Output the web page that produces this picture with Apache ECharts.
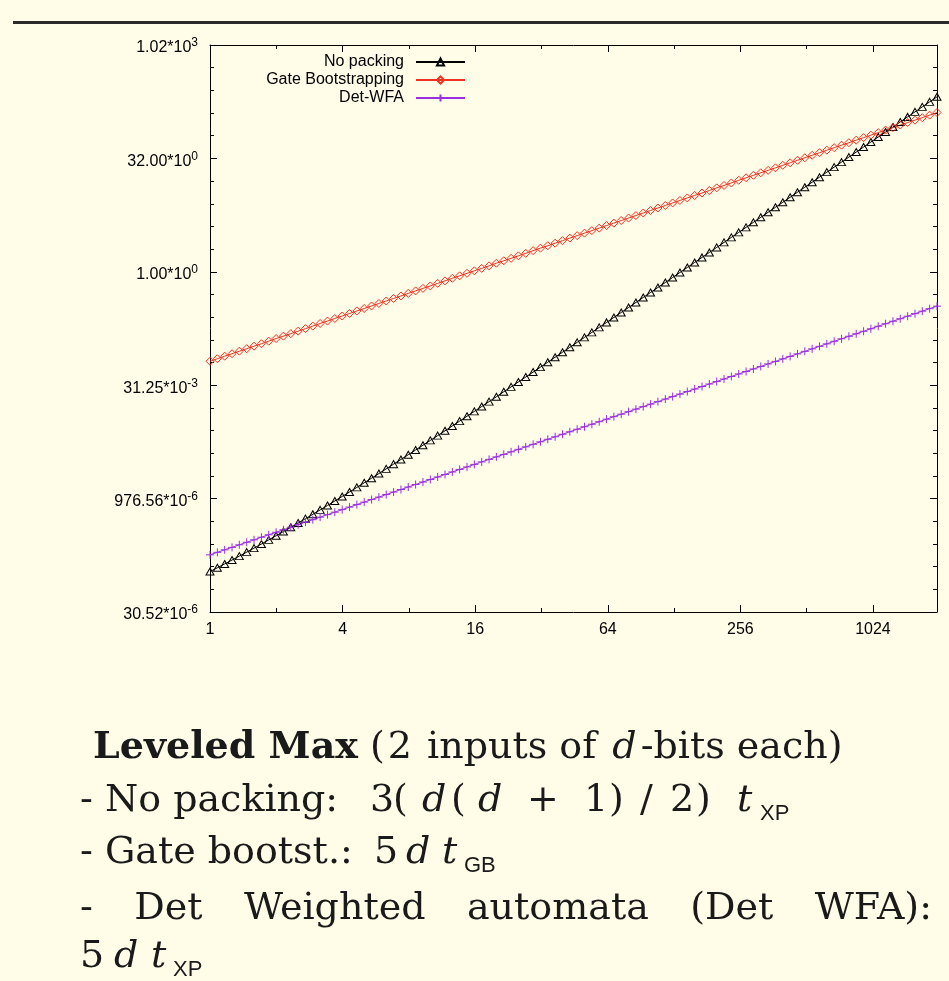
<!DOCTYPE html>
<html><head><meta charset="utf-8">
<script src="https://cdn.jsdelivr.net/npm/echarts@6/dist/echarts.min.js"></script>
<style>html,body{margin:0;padding:0;background:#fffce8;} #c{width:949px;height:981px;}</style>
</head><body><div id="c"></div>
<script>
// d (bits) sampled evenly on the log axis from 1 to 2000
const dValues = [1,1.080,1.166,1.259,1.359,1.468,1.585,1.712,1.848,1.996,
2.155,2.327,2.513,2.713,2.930,3.163,3.416,3.688,3.983,4.301,
4.644,5.014,5.415,5.847,6.313,6.817,7.361,7.948,8.583,9.268,
10.01,10.81,11.67,12.60,13.60,14.69,15.86,17.13,18.50,19.97,
21.57,23.29,25.14,27.15,29.32,31.66,34.18,36.91,39.86,43.04,
46.47,50.18,54.18,58.51,63.18,68.22,73.66,79.54,85.89,92.74,
100.1,108.1,116.8,126.1,136.1,147.0,158.7,171.4,185.1,199.9,
215.8,233.0,251.6,271.7,293.4,316.8,342.1,369.4,398.9,430.7,
465.1,502.2,542.2,585.5,632.2,682.7,737.2,796.0,859.5,928.1,
1002,1082,1168,1262,1362,1471,1589,1715,1852,2000];

const noPacking = [1.050e-4,1.179e-4,1.326e-4,1.493e-4,1.684e-4,1.902e-4,2.151e-4,2.437e-4,2.764e-4,3.139e-4,
3.569e-4,4.064e-4,4.634e-4,5.289e-4,6.044e-4,6.915e-4,7.919e-4,9.079e-4,1.042e-3,1.197e-3,
1.376e-3,1.583e-3,1.823e-3,2.102e-3,2.424e-3,2.798e-3,3.231e-3,3.734e-3,4.318e-3,4.996e-3,
5.783e-3,6.698e-3,7.760e-3,8.995e-3,1.043e-2,1.210e-2,1.404e-2,1.630e-2,1.893e-2,2.199e-2,
2.555e-2,2.969e-2,3.451e-2,4.013e-2,4.666e-2,5.428e-2,6.314e-2,7.347e-2,8.549e-2,9.950e-2,
0.1158,0.1348,0.1570,0.1828,0.2129,0.2479,0.2888,0.3363,0.3918,0.4564,
0.5318,0.6196,0.7219,0.8412,0.9802,1.142,1.331,1.552,1.808,2.107,
2.456,2.863,3.337,3.890,4.534,5.286,6.161,7.183,8.373,9.761,
11.38,13.27,15.46,18.03,21.02,24.50,28.57,33.31,38.83,45.27,
52.78,61.54,71.74,83.65,97.52,113.7,132.6,154.6,180.2,210.1];

const gateBootstrapping = [0.0650,0.0702,0.0758,0.0818,0.0884,0.0954,0.103,0.111,0.120,0.130,
0.140,0.151,0.163,0.176,0.190,0.206,0.222,0.240,0.259,0.280,
0.302,0.326,0.352,0.380,0.410,0.443,0.478,0.517,0.558,0.602,
0.650,0.702,0.758,0.819,0.884,0.955,1.03,1.11,1.20,1.30,
1.40,1.51,1.63,1.76,1.91,2.06,2.22,2.40,2.59,2.80,
3.02,3.26,3.52,3.80,4.11,4.43,4.79,5.17,5.58,6.03,
6.51,7.03,7.59,8.20,8.85,9.56,10.3,11.1,12.0,13.0,
14.0,15.1,16.4,17.7,19.1,20.6,22.2,24.0,25.9,28.0,
30.2,32.6,35.2,38.1,41.1,44.4,47.9,51.7,55.9,60.3,
65.1,70.3,76.0,82.0,88.6,95.6,103,111,120,130];

const detWFA = [1.75e-4,1.89e-4,2.04e-4,2.20e-4,2.38e-4,2.57e-4,2.77e-4,3.00e-4,3.23e-4,3.49e-4,
3.77e-4,4.07e-4,4.40e-4,4.75e-4,5.13e-4,5.54e-4,5.98e-4,6.45e-4,6.97e-4,7.53e-4,
8.13e-4,8.77e-4,9.48e-4,1.023e-3,1.105e-3,1.193e-3,1.288e-3,1.391e-3,1.502e-3,1.622e-3,
1.751e-3,1.891e-3,2.042e-3,2.205e-3,2.380e-3,2.571e-3,2.776e-3,2.998e-3,3.237e-3,3.495e-3,
3.774e-3,4.075e-3,4.400e-3,4.751e-3,5.131e-3,5.540e-3,5.982e-3,6.459e-3,6.975e-3,7.532e-3,
8.132e-3,8.782e-3,9.482e-3,1.024e-2,1.106e-2,1.194e-2,1.289e-2,1.392e-2,1.503e-2,1.623e-2,
1.752e-2,1.892e-2,2.043e-2,2.206e-2,2.382e-2,2.573e-2,2.778e-2,3.000e-2,3.239e-2,3.497e-2,
3.777e-2,4.078e-2,4.403e-2,4.755e-2,5.134e-2,5.544e-2,5.987e-2,6.464e-2,6.980e-2,7.537e-2,
8.139e-2,8.788e-2,9.489e-2,0.1025,0.1106,0.1195,0.1290,0.1393,0.1504,0.1624,
0.1754,0.1894,0.2045,0.2208,0.2384,0.2575,0.2780,0.3002,0.3241,0.3500];

const seriesNames = ['No packing', 'Gate Bootstrapping', 'Det-WFA'];
const xTickLabels = ['1', '4', '16', '64', '256', '1024'];
const yTickMantissas = ['30.52', '976.56', '31.25', '1.00', '32.00', '1.02'];
const yTickExponents = ['-6', '-6', '-3', '0', '0', '3'];

const SANS = "'Liberation Sans', Arial, Helvetica, sans-serif";
const BG = '#fffce8';
const RED = '#f03020';
const PURPLE = '#9a2fe0';
const INK = '#1a1a1a';

const chart = echarts.init(document.getElementById('c'), null, {renderer: 'canvas'});

function pairs(ys) { return dValues.map((d, i) => [d, ys[i]]); }

const X_MAX = 2000, Y_MIN = Math.pow(2, -15), Y_MAX = 1024;
const tickStyle = {color: '#000', width: 1};

function xMajor(pos, labels) {
  return {
    type: 'log', logBase: 4, min: 1, max: X_MAX, position: pos,
    axisLine: {show: true, onZero: false, lineStyle: {color: '#000', width: 1}},
    axisTick: {show: true, inside: true, length: 7, lineStyle: tickStyle},
    axisLabel: labels ? {
      show: true, margin: 10, color: '#000', fontFamily: SANS, fontSize: 16,
      showMaxLabel: false,
      formatter: function (v) {
        const k = Math.round(Math.log(v) / Math.log(4));
        return Math.abs(Math.pow(4, k) - v) < 1e-6 * v ? (xTickLabels[k] || '') : '';
      }
    } : {show: false},
    splitLine: {show: false}
  };
}
function xMinor(pos) {
  return {
    type: 'value', min: 0, max: Math.log2(X_MAX), interval: 1, position: pos,
    axisLine: {show: false, onZero: false},
    axisTick: {show: true, inside: true, length: 4, lineStyle: tickStyle},
    axisLabel: {show: false}, splitLine: {show: false}
  };
}
function yMajor(pos, labels) {
  return {
    type: 'log', logBase: 32, min: Y_MIN, max: Y_MAX, position: pos,
    axisLine: {show: true, onZero: false, lineStyle: {color: '#000', width: 1}},
    axisTick: {show: true, inside: true, length: 7, lineStyle: tickStyle},
    axisLabel: labels ? {
      show: true, margin: 12, color: '#000',
      formatter: function (v) {
        const k = Math.round(Math.log(v) / Math.log(32)) + 3;
        if (yTickMantissas[k] === undefined) return '';
        return '{m|' + yTickMantissas[k] + '*10}{e|' + yTickExponents[k] + '}';
      },
      rich: {
        m: {fontFamily: SANS, fontSize: 16, lineHeight: 22, verticalAlign: 'bottom', color: '#000', padding: [3, 0, 0, 0]},
        e: {fontFamily: SANS, fontSize: 12, lineHeight: 14, verticalAlign: 'top', color: '#000', padding: [3, 0, 0, 0]}
      }
    } : {show: false},
    splitLine: {show: false}
  };
}
function yMinor(pos) {
  return {
    type: 'value', min: -15, max: 10, interval: 1, position: pos,
    axisLine: {show: false, onZero: false},
    axisTick: {show: true, inside: true, length: 4, lineStyle: tickStyle},
    axisLabel: {show: false}, splitLine: {show: false}
  };
}

const legendRowsTop = [53, 71, 89];
const legends = seriesNames.map((n, i) => ({
  data: [n], right: 949 - 466, top: legendRowsTop[i], align: 'right', orient: 'horizontal',
  itemWidth: 49, itemHeight: 9, padding: 0, selectedMode: false,
  textStyle: {fontFamily: SANS, fontSize: 16, color: '#000', lineHeight: 18, padding: [0, 7, 0, 0]}
}));

// ---- caption text layout (measured with canvas) ----
const F_BOLD = 'bold 38px "DejaVu Serif"';
const F_REG = '38px "DejaVu Serif"';
const F_IT = 'italic 38px "DejaVu Serif"';
const F_MATH = '38px "DejaVu Serif"';
const F_SUB = '22px "Liberation Sans"';
const mctx = document.createElement('canvas').getContext('2d');
function tw(t, f) { mctx.font = f; return mctx.measureText(t).width; }
function T(x, yc, t, f) {
  return {type: 'text', x: x, y: yc, silent: true,
    style: {text: t, font: f, fill: INK, align: 'left', verticalAlign: 'middle', textAlign: 'left', textVerticalAlign: 'middle'}};
}
const caption = [];
// line 1
(function () {
  const y = 748; let x = 93;
  caption.push(T(x, y, 'Leveled Max', F_BOLD)); x += tw('Leveled Max', F_BOLD) + tw(' ', F_REG);
  caption.push(T(x, y, '(', F_REG)); x += tw('(', F_REG) + 3;
  caption.push(T(x, y, '2', F_MATH)); x += tw('2', F_MATH) + 3;
  caption.push(T(x, y, ' inputs of ', F_REG)); x += tw(' inputs of ', F_REG) + 4;
  caption.push(T(x, y, 'd', F_IT)); x += tw('d', F_IT) + 4;
  caption.push(T(x, y, '-bits each)', F_REG));
})();
// line 2
(function () {
  const y = 801;
  caption.push(T(80, y, '- No packing:', F_REG));
  const math = [['3', 370, F_MATH], ['(', 393, F_MATH], ['d', 422, F_IT], ['(', 451, F_MATH], ['d', 478, F_IT],
                ['+', 527, F_MATH], ['1', 584, F_MATH], [')', 609, F_MATH], ['/', 640, F_MATH], ['2', 670, F_MATH],
                [')', 696, F_MATH], ['t', 737, F_IT]];
  math.forEach(m => caption.push(T(m[1], y, m[0], m[2])));
  caption.push(T(760, y + 13, 'XP', F_SUB));
})();
// line 3
(function () {
  const y = 853;
  caption.push(T(80, y, '- Gate bootst.:', F_REG));
  caption.push(T(374, y, '5', F_MATH));
  caption.push(T(406, y, 'd', F_IT));
  caption.push(T(442, y, 't', F_IT));
  caption.push(T(464, y + 13, 'GB', F_SUB));
})();
// line 4 (justified)
(function () {
  const y = 909;
  const words = ['-', 'Det', 'Weighted', 'automata', '(Det', 'WFA):'];
  const widths = words.map(wd => tw(wd, F_REG));
  const total = widths.reduce((a, b) => a + b, 0);
  const gap = (932 - 80 - total) / (words.length - 1);
  let x = 80;
  words.forEach((wd, i) => { caption.push(T(x, y, wd, F_REG)); x += widths[i] + gap; });
})();
// line 5
(function () {
  const y = 957;
  caption.push(T(80, y, '5', F_MATH));
  caption.push(T(114, y, 'd', F_IT));
  caption.push(T(151, y, 't', F_IT));
  caption.push(T(173, y + 13, 'XP', F_SUB));
})();

const option = {
  backgroundColor: BG,
  animation: false,
  grid: {left: 210, top: 45, right: 12, bottom: 369, containLabel: false},
  legend: legends,
  xAxis: [xMajor('bottom', true), xMajor('top', false), xMinor('bottom'), xMinor('top')],
  yAxis: [yMajor('left', true), yMajor('right', false), yMinor('left'), yMinor('right')],
  series: [
    {name: seriesNames[0], type: 'line', data: pairs(noPacking), xAxisIndex: 0, yAxisIndex: 0,
      symbol: 'triangle', symbolSize: [8, 7], showAllSymbol: true,
      lineStyle: {color: '#000', width: 1},
      itemStyle: {color: 'rgba(0,0,0,0)', borderColor: '#000', borderWidth: 1}},
    {name: seriesNames[1], type: 'line', data: pairs(gateBootstrapping), xAxisIndex: 0, yAxisIndex: 0,
      symbol: 'diamond', symbolSize: 8, showAllSymbol: true,
      lineStyle: {color: RED, width: 1},
      itemStyle: {color: 'rgba(0,0,0,0)', borderColor: RED, borderWidth: 1}},
    {name: seriesNames[2], type: 'line', data: pairs(detWFA), xAxisIndex: 0, yAxisIndex: 0,
      symbol: 'path://M0,5L10,5M5,0L5,10', symbolSize: 8, showAllSymbol: true,
      lineStyle: {color: PURPLE, width: 1},
      itemStyle: {color: 'rgba(0,0,0,0)', borderColor: PURPLE, borderWidth: 1}}
  ],
  graphic: [
    {type: 'rect', shape: {x: 13, y: 21, width: 936, height: 3}, style: {fill: '#2b2b2b'}, silent: true}
  ].concat(caption)
};
chart.setOption(option);
</script>
</body></html>
